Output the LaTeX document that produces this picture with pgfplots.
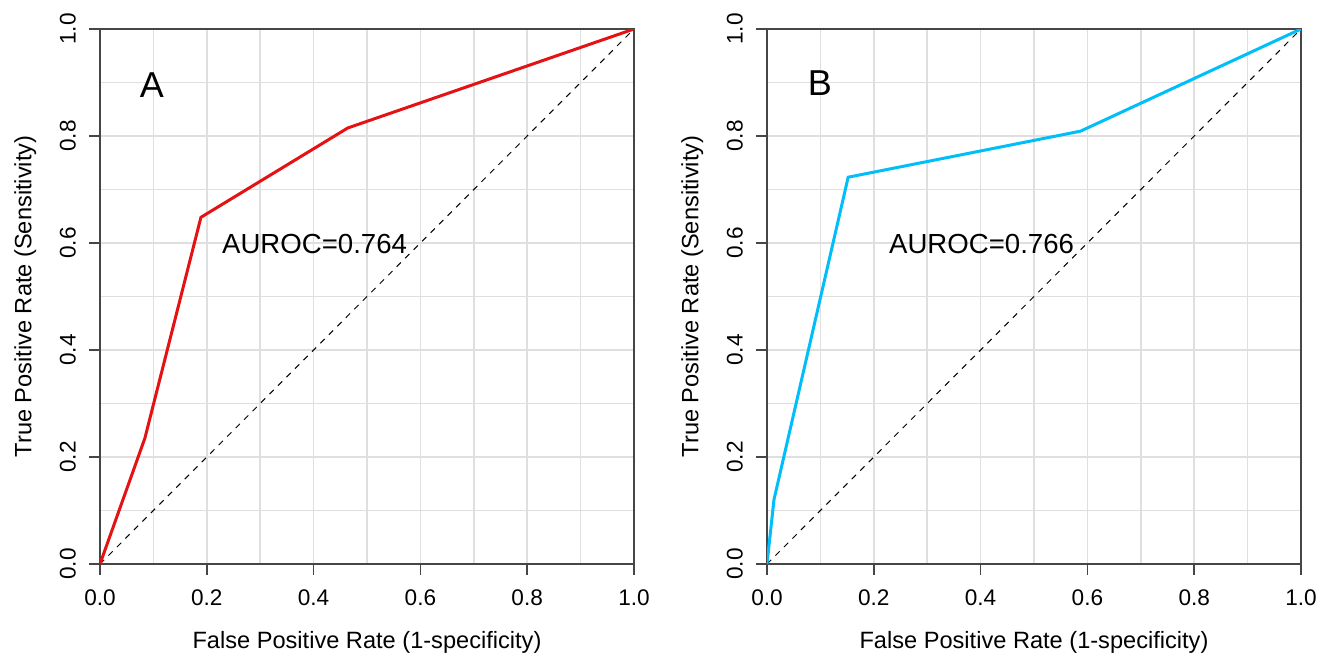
\documentclass[border=0pt]{standalone}
\usepackage{fontspec}
\setmainfont{Liberation Sans}
\usepackage{pgfplots}
\pgfplotsset{compat=1.18}
\definecolor{rocred}{RGB}{228,18,18}
\definecolor{rocblue}{RGB}{0,190,250}
\definecolor{axgray}{RGB}{70,70,70}
\pgfplotsset{
  rocaxis/.style={
    scale only axis, width=267pt, height=267.5pt,
    xmin=0, xmax=1, ymin=0, ymax=1,
    xtick={0,0.2,...,1.0}, ytick={0,0.2,...,1.0},
    minor tick num=1,
    grid=both,
    major grid style={draw=gray!25, line width=0.75pt},
    minor grid style={draw=gray!25, line width=0.75pt},
    minor tick length=0pt,
    major tick length=5.5pt,
    tick align=outside,
    xtick pos=bottom, ytick pos=left,
    axis line style={draw=axgray, line width=0.8pt},
    tick style={draw=axgray, line width=0.8pt},
    xticklabel style={font=\fontsize{11.3}{13}\selectfont, yshift=-4pt},
    yticklabel style={font=\fontsize{11.3}{13}\selectfont, rotate=90, anchor=south, yshift=3pt},
    /pgf/number format/fixed,
    /pgf/number format/fixed zerofill,
    /pgf/number format/precision=1,
    /pgf/number format/assume math mode=true,
    xlabel={False Positive Rate (1-specificity)},
    ylabel={True Positive Rate (Sensitivity)},
    label style={font=\fontsize{11.8}{13}\selectfont},
    xlabel style={yshift=-6pt},
    ylabel style={yshift=5pt},
  }
}
\begin{document}
\begin{tikzpicture}
\begin{axis}[rocaxis]
\addplot[black, dashed, line width=0.5pt] coordinates {(0,0)(1,1)};
\addplot[rocred, line width=1.5pt] coordinates {(0,0)(0.084,0.235)(0.189,0.648)(0.464,0.815)(1,1)};
\node[font=\fontsize{18}{20}\selectfont] at (axis cs:0.097,0.895) {A};
\node[font=\fontsize{13.8}{16}\selectfont, anchor=west, inner sep=0pt] at (axis cs:0.228,0.598) {AUROC=0.764};
\end{axis}
\begin{axis}[rocaxis, xshift=333.5pt]
\addplot[black, dashed, line width=0.5pt] coordinates {(0,0)(1,1)};
\addplot[rocblue, line width=1.5pt] coordinates {(0,0)(0.013,0.12)(0.152,0.723)(0.587,0.809)(1,1)};
\node[font=\fontsize{18}{20}\selectfont] at (axis cs:0.099,0.899) {B};
\node[font=\fontsize{13.8}{16}\selectfont, anchor=west, inner sep=0pt] at (axis cs:0.228,0.598) {AUROC=0.766};
\end{axis}
\pgfresetboundingbox
\useasboundingbox (-50pt,-45pt) rectangle (616.5pt,282pt);
\end{tikzpicture}
\end{document}
